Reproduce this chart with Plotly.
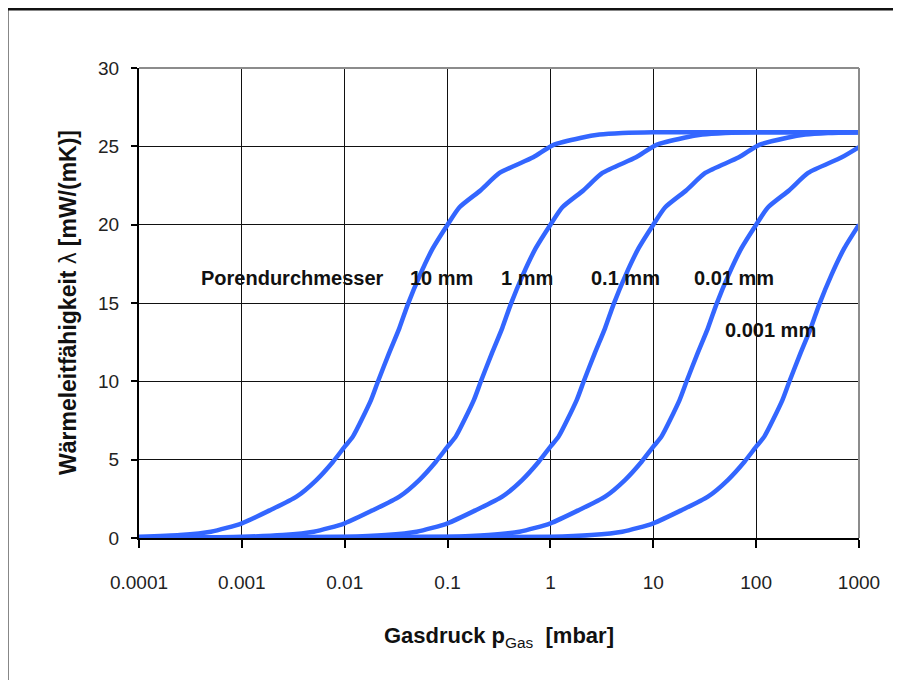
import plotly.graph_objects as go

# ---- data ----
x_10mm = [0.0001, 0.00025, 0.0005, 0.001, 0.0019, 0.0034, 0.0053, 0.0077, 0.01, 0.012, 0.018, 0.021,
          0.027, 0.034, 0.041, 0.054, 0.072, 0.1, 0.13, 0.21, 0.32, 0.68, 1.06, 2, 3, 5, 10, 1000]
y_10mm = [0.08, 0.19, 0.4, 0.94, 1.79, 2.64, 3.7, 4.87, 5.83, 6.47, 8.8, 9.97,
          11.8, 13.4, 14.9, 16.8, 18.5, 20.0, 21.1, 22.2, 23.3, 24.3, 25.08, 25.55, 25.75, 25.85, 25.9, 25.9]

x_1mm = [0.0001, 0.001, 0.0025, 0.005, 0.01, 0.019, 0.034, 0.053, 0.077, 0.1, 0.12, 0.18, 0.21,
         0.27, 0.34, 0.41, 0.54, 0.72, 1, 1.3, 2.1, 3.2, 6.8, 10.6, 20, 30, 50, 100, 1000]
y_1mm = [0, 0.08, 0.19, 0.4, 0.94, 1.79, 2.64, 3.7, 4.87, 5.83, 6.47, 8.8, 9.97,
         11.8, 13.4, 14.9, 16.8, 18.5, 20.0, 21.1, 22.2, 23.3, 24.3, 25.08, 25.55, 25.75, 25.85, 25.9, 25.9]

x_01mm = [0.0001, 0.01, 0.025, 0.05, 0.1, 0.19, 0.34, 0.53, 0.77, 1, 1.2, 1.8, 2.1,
          2.7, 3.4, 4.1, 5.4, 7.2, 10, 13, 21, 32, 68, 106, 200, 300, 500, 1000]
y_01mm = [0, 0.08, 0.19, 0.4, 0.94, 1.79, 2.64, 3.7, 4.87, 5.83, 6.47, 8.8, 9.97,
          11.8, 13.4, 14.9, 16.8, 18.5, 20.0, 21.1, 22.2, 23.3, 24.3, 25.08, 25.55, 25.75, 25.85, 25.9]

x_001mm = [0.0001, 0.1, 0.25, 0.5, 1, 1.9, 3.4, 5.3, 7.7, 10, 12, 18, 21,
           27, 34, 41, 54, 72, 100, 130, 210, 320, 680, 1000]
y_001mm = [0, 0.08, 0.19, 0.4, 0.94, 1.79, 2.64, 3.7, 4.87, 5.83, 6.47, 8.8, 9.97,
           11.8, 13.4, 14.9, 16.8, 18.5, 20.0, 21.1, 22.2, 23.3, 24.3, 24.95]

x_0001mm = [0.0001, 1, 2.5, 5, 10, 19, 34, 53, 77, 100, 120, 180, 210,
            270, 340, 410, 540, 720, 1000]
y_0001mm = [0, 0.08, 0.19, 0.4, 0.94, 1.79, 2.64, 3.7, 4.87, 5.83, 6.47, 8.8, 9.97,
            11.8, 13.4, 14.9, 16.8, 18.5, 20.0]

x_tickvals = [0.0001, 0.001, 0.01, 0.1, 1, 10, 100, 1000]
x_ticktext = ["0.0001", "0.001", "0.01", "0.1", "1", "10", "100", "1000"]
y_tickvals = [0, 5, 10, 15, 20, 25, 30]

series = [
    ("10 mm", x_10mm, y_10mm),
    ("1 mm", x_1mm, y_1mm),
    ("0.1 mm", x_01mm, y_01mm),
    ("0.01 mm", x_001mm, y_001mm),
    ("0.001 mm", x_0001mm, y_0001mm),
]

LINE_COLOR = "#3366FF"
FONT = "Liberation Sans, Arial, sans-serif"

# page geometry (the page body adds an 8 px offset)
ML, MR, MT, MB = 131, 50, 60, 150
W = 901 - ML - MR
H = 680 - MT - MB
OFF = 8

def px_x(p):
    return (p - OFF - ML) / W

def px_y(p):
    return (680 - MB + OFF - p) / H

fig = go.Figure()
for name, xs, ys in series:
    fig.add_trace(go.Scatter(x=xs, y=ys, mode="lines", name=name,
                             line=dict(color=LINE_COLOR, width=4.5, shape="spline", smoothing=0.6),
                             showlegend=False))

fig.update_layout(
    width=901, height=680,
    margin=dict(l=ML, r=MR, t=MT, b=MB),
    paper_bgcolor="white", plot_bgcolor="white",
    font=dict(family=FONT, color="#222222"),
    showlegend=False,
)

fig.update_xaxes(
    type="log", range=[-4, 3],
    tickvals=x_tickvals, ticktext=x_ticktext,
    tickfont=dict(size=19, family=FONT, color="#222222"),
    showgrid=True, gridcolor="#111111", gridwidth=1,
    showline=True, linecolor="#000000", linewidth=2,
    ticks="outside", ticklen=8, tickwidth=2, tickcolor="#000000",
    ticklabelstandoff=18,
    zeroline=False,
)
fig.update_yaxes(
    range=[0, 30], tickvals=y_tickvals,
    tickfont=dict(size=19, family=FONT, color="#222222"),
    showgrid=True, gridcolor="#111111", gridwidth=1,
    showline=True, linecolor="#000000", linewidth=2,
    ticks="outside", ticklen=6, tickwidth=2, tickcolor="#000000",
    ticklabelstandoff=8,
    zeroline=False,
)

# plot-area gray top/right border and outer frame
fig.add_shape(type="line", xref="paper", yref="paper", x0=0, x1=1, y0=1, y1=1,
              line=dict(color="#8c8c8c", width=2), layer="above")
fig.add_shape(type="line", xref="paper", yref="paper", x0=1, x1=1, y0=0, y1=1,
              line=dict(color="#8c8c8c", width=2), layer="above")
fig.add_shape(type="rect", xref="paper", yref="paper",
              x0=px_x(7), x1=px_x(915), y0=px_y(700), y1=px_y(9),
              line=dict(color="#111111", width=3), fillcolor="rgba(0,0,0,0)", layer="above")

# axis titles
fig.add_annotation(xref="paper", yref="paper", x=0.5, y=px_y(637),
                   text="<b>Gasdruck p</b><sub>Gas</sub>  <b>[mbar]</b>", showarrow=False,
                   font=dict(size=22, family=FONT, color="#111111"),
                   xanchor="center", yanchor="middle")
fig.add_annotation(xref="paper", yref="paper", x=px_x(68), y=0.5,
                   text="<b>Wärmeleitfähigkeit</b> λ <b>[mW/(mK)]</b>", showarrow=False,
                   textangle=-90,
                   font=dict(size=23, family=FONT, color="#111111"),
                   xanchor="center", yanchor="middle")

# curve labels
labels = [
    ("Porendurchmesser", -3.42, 16.6),
    ("10 mm", -1.388, 16.6),
    ("1 mm", -0.502, 16.6),
    ("0.1 mm", 0.374, 16.6),
    ("0.01 mm", 1.376, 16.6),
    ("0.001 mm", 1.677, 13.27),
]
for txt, lx, ly in labels:
    fig.add_annotation(x=lx, y=ly, xref="x", yref="y", text="<b>" + txt + "</b>",
                       showarrow=False, xanchor="left", yanchor="middle",
                       font=dict(size=20, family=FONT, color="#111111"))

fig.write_html("out.html")
